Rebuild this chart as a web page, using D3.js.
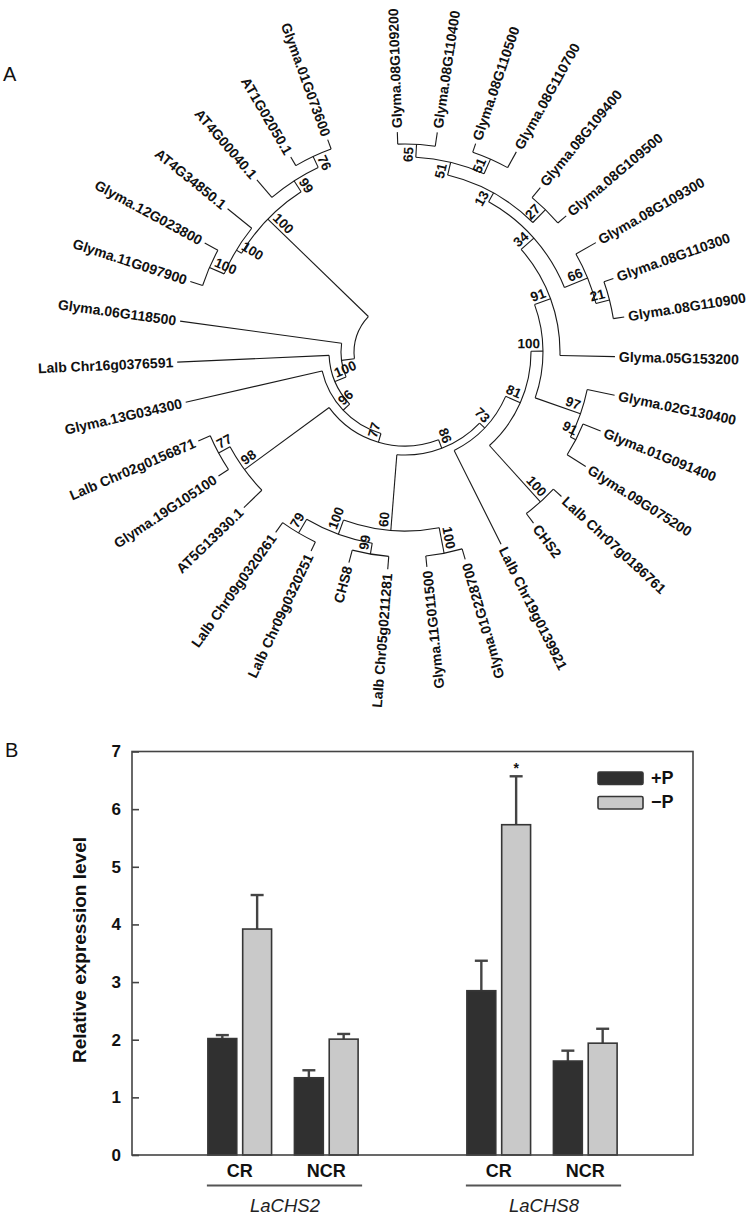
<!DOCTYPE html>
<html><head><meta charset="utf-8">
<script src="https://cdn.jsdelivr.net/npm/d3@7"></script>
<style>body{margin:0;background:#fff}svg{display:block}</style>
</head><body>
<svg id="fig" width="750" height="1218"></svg>
<script>
// ================= Panel A : tree data =================
const leafNames = ["Glyma.08G109200","Glyma.08G110400","Glyma.08G110500","Glyma.08G110700","Glyma.08G109400","Glyma.08G109500","Glyma.08G109300","Glyma.08G110300","Glyma.08G110900","Glyma.05G153200","Glyma.02G130400","Glyma.01G091400","Glyma.09G075200","Lalb Chr07g0186761","CHS2","Lalb Chr19g0139921","Glyma.01G228700","Glyma.11G011500","Lalb Chr05g0211281","CHS8","Lalb Chr09g0320251","Lalb Chr09g0320261","AT5G13930.1","Glyma.19G105100","Lalb Chr02g0156871","Glyma.13G034300","Lalb Chr16g0376591","Glyma.06G118500","Glyma.11G097900","Glyma.12G023800","AT4G34850.1","AT4G00040.1","AT1G02050.1","Glyma.01G073600"];
const leafParents = ["n65","n65","n51a","n51a","n27","n27","n66","n21","n21","n91a","n97","n91b","n91b","n100b","n100b","n73","n100c","n100c","n99","n99","n79","n79","n98","n77a","n77a","n96","n100e","F","C","C","D","B","A","A"];
const leafLengths = [0.012,0.014,0.009,0.018,0.013,0.011,0.023,0.010,0.011,0.055,0.028,0.019,0.022,0.011,0.012,0.105,0.011,0.011,0.013,0.013,0.010,0.012,0.025,0.012,0.013,0.140,0.152,0.163,0.013,0.015,0.031,0.023,0.010,0.010];

const nodeIds      = ["root","E","D","C","B","A","F","n100e","n96","n77b","n98","n77a","n86","n60","n100c","n100d","n99","n79","n73","n81","n100a","n91a","n34","n13","n51b","n65","n51a","n27","n66","n21","n97","n91b","n100b"];
const nodeParents  = ["","root","E","D","E","B","root","F","n100e","n96","n77b","n98","n77b","n86","n60","n60","n100d","n100d","n86","n73","n81","n100a","n91a","n34","n13","n51b","n51b","n13","n34","n66","n100a","n97","n81"];
const nodeLengths  = [0,0.140,0.006,0.016,0.013,0.012,0.013,0.012,0.009,0.009,0.105,0.013,0.009,0.076,0.026,0.015,0.011,0.016,0.007,0.016,0.012,0.017,0.017,0.010,0.013,0.013,0.016,0.018,0.025,0.014,0.048,0.006,0.076];
const nodeSupports = [null,100,100,100,99,76,null,100,96,77,98,77,86,60,100,100,99,79,73,81,100,91,34,13,51,65,51,27,66,21,97,91,100];

// ================= Panel B : bar data =================
const genes = ["LaCHS2","LaCHS8"];
const tissues = ["CR","NCR"];
const seriesNames = ["+P","\u2212P"];
const plusP      = [2.02, 1.34, 2.85, 1.63];
const plusPErr   = [0.06, 0.13, 0.52, 0.18];
const minusP     = [3.92, 2.01, 5.73, 1.94];
const minusPErr  = [0.59, 0.09, 0.84, 0.25];
const yTicks = [0,1,2,3,4,5,6,7];
const significant = [false,false,true,false]; // for -P bars

const svg = d3.select("#fig");
const FONT = "'Liberation Sans', Arial, Helvetica, sans-serif";

// ---------------- Tree ----------------
const cx = 405, cy = 352;
const rows = nodeIds.map((id,i)=>({id, parent:nodeParents[i], len:nodeLengths[i], support:nodeSupports[i], leaf:false}))
  .concat(leafNames.map((n,i)=>({id:n, parent:leafParents[i], len:leafLengths[i], leaf:true, idx:i})));
const root = d3.stratify().id(d=>d.id).parentId(d=>d.parent)(rows);
root.eachBefore(n=>{ n.dist = n.parent ? n.parent.dist + n.data.len : 0; });
const angle = d3.scaleLinear().domain([0, leafNames.length-1]).range([-92, 250]);
const radius = d3.scaleLinear().domain([0, 0.18]).range([51, 231]);
root.eachAfter(n=>{
  n.r = radius(n.dist);
  if (!n.children) n.theta = angle(n.data.idx);
  else {
    n.children.sort((a,b)=>a.theta-b.theta);
    n.theta = (n.children[0].theta + n.children[n.children.length-1].theta)/2;
  }
});
const pt = (r,a)=>[cx + r*Math.cos(a*Math.PI/180), cy + r*Math.sin(a*Math.PI/180)];
const norm = a => ((a%360)+360)%360;

const gT = svg.append("g").attr("fill","none").attr("stroke","#1a1a1a").attr("stroke-width",1.1);
root.descendants().filter(n=>n.children).forEach(n=>{
  const a0 = n.children[0].theta, a1 = n.children[n.children.length-1].theta;
  const [x0,y0] = pt(n.r,a0), [x1,y1] = pt(n.r,a1);
  gT.append("path").attr("d",`M${x0},${y0}A${n.r},${n.r} 0 ${a1-a0>180?1:0} 1 ${x1},${y1}`);
});
root.descendants().filter(n=>n.parent).forEach(n=>{
  const [x0,y0] = pt(n.parent.r,n.theta), [x1,y1] = pt(n.r,n.theta);
  gT.append("path").attr("d",`M${x0},${y0}L${x1},${y1}`);
});
const gL = svg.append("g").attr("font-family",FONT).attr("font-weight","bold").attr("fill","#111");
root.leaves().forEach(n=>{
  const a = norm(n.theta), flip = a>68 && a<262;
  const [x,y] = pt(n.r+4, n.theta);
  gL.append("text").attr("font-size",14).attr("transform",`translate(${x},${y}) rotate(${flip?n.theta+180:n.theta})`)
    .attr("text-anchor",flip?"end":"start").attr("dy","0.35em").text(n.data.id);
});
root.descendants().filter(n=>n.children && n.data.support!=null).forEach(n=>{
  const a = norm(n.theta), flip = a>85 && a<262;
  const [x,y] = pt(n.r-3, n.theta);
  gL.append("text").attr("font-size",13.5).attr("transform",`translate(${x},${y}) rotate(${flip?n.theta+180:n.theta})`)
    .attr("text-anchor",flip?"start":"end").attr("y",-3).text(n.data.support);
});
svg.append("text").attr("x",3).attr("y",81).attr("font-family",FONT).attr("font-size",20).attr("fill","#111").text("A");

// ---------------- Bar chart ----------------
const pLeft=132, pRight=693, pTop=751.5, pBottom=1155;
const y = d3.scaleLinear().domain([0,7]).range([pBottom, pTop]);
const x0 = d3.scaleBand().domain(genes).range([pLeft,pRight]).paddingInner(0.42).paddingOuter(0.293);
const x1 = d3.scaleBand().domain(tissues).range([0,x0.bandwidth()]).paddingInner(0.264).paddingOuter(0);
const x2 = d3.scaleBand().domain(seriesNames).range([0,x1.bandwidth()]).paddingInner(0.17).paddingOuter(0);
const fills = {"+P":"#303030","\u2212P":"#c9c9c9"};

const gB = svg.append("g");
const recs = [];
genes.forEach((g,gi)=>tissues.forEach((t,ti)=>{
  const k = gi*2+ti;
  recs.push({g,t,s:"+P",v:plusP[k],e:plusPErr[k],sig:false});
  recs.push({g,t,s:"\u2212P",v:minusP[k],e:minusPErr[k],sig:significant[k]});
}));
recs.forEach(d=>{
  const bx = x0(d.g)+x1(d.t)+x2(d.s), bw = x2.bandwidth(), mx = bx+bw/2;
  gB.append("line").attr("x1",mx).attr("x2",mx).attr("y1",y(d.v)).attr("y2",y(d.v+d.e)).attr("stroke","#444").attr("stroke-width",2.4);
  gB.append("line").attr("x1",mx-6.5).attr("x2",mx+6.5).attr("y1",y(d.v+d.e)).attr("y2",y(d.v+d.e)).attr("stroke","#444").attr("stroke-width",2.4);
  gB.append("rect").attr("x",bx).attr("y",y(d.v)).attr("width",bw).attr("height",y(0)-y(d.v))
    .attr("fill",fills[d.s]).attr("stroke","#363636").attr("stroke-width",1.6);
  if (d.sig) gB.append("text").attr("x",mx).attr("y",y(d.v+d.e)-3).attr("text-anchor","middle")
    .attr("font-family",FONT).attr("font-size",14).attr("font-weight","bold").attr("fill","#111").text("*");
});
svg.append("rect").attr("x",pLeft).attr("y",pTop).attr("width",pRight-pLeft).attr("height",pBottom-pTop)
  .attr("fill","none").attr("stroke","#444").attr("stroke-width",1.6);
const ax = svg.append("g").attr("transform",`translate(${pLeft},0)`)
  .call(d3.axisLeft(y).tickValues(yTicks).tickSize(-7).tickPadding(11).tickFormat(d3.format("d")));
ax.select(".domain").remove();
ax.selectAll(".tick line").attr("stroke","#444").attr("stroke-width",1.6);
ax.selectAll(".tick text").attr("font-family",FONT).attr("font-size",17).attr("font-weight","bold").attr("fill","#111");
svg.append("text").attr("transform",`translate(85.5,950) rotate(-90)`).attr("text-anchor","middle")
  .attr("font-family",FONT).attr("font-size",19).attr("font-weight","bold").attr("fill","#111").text("Relative expression level");
genes.forEach(g=>{
  tissues.forEach(t=>{
    svg.append("text").attr("x",x0(g)+x1(t)+x1.bandwidth()/2).attr("y",1177).attr("text-anchor","middle")
      .attr("font-family",FONT).attr("font-size",18).attr("font-weight","bold").attr("fill","#111").text(t);
  });
  svg.append("line").attr("x1",x0(g)-1).attr("x2",x0(g)+x0.bandwidth()+4).attr("y1",1185.5).attr("y2",1185.5)
    .attr("stroke","#555").attr("stroke-width",2);
  svg.append("text").attr("x",x0(g)+x0.bandwidth()/2+2).attr("y",1212).attr("text-anchor","middle")
    .attr("font-family",FONT).attr("font-size",18.5).attr("font-style","italic").attr("fill","#222").text(g);
});
seriesNames.forEach((s,i)=>{
  const ly = 772 + i*24.5;
  svg.append("rect").attr("x",598).attr("y",ly).attr("width",45).attr("height",12.5).attr("rx",1.5)
    .attr("fill",fills[s]).attr("stroke","#363636").attr("stroke-width",1.6);
  svg.append("text").attr("x",651).attr("y",ly+11.5).attr("font-family",FONT).attr("font-size",18)
    .attr("font-weight","bold").attr("fill","#111").text(s);
});
svg.append("text").attr("x",5).attr("y",757).attr("font-family",FONT).attr("font-size",20).attr("fill","#111").text("B");
</script>
</body></html>
